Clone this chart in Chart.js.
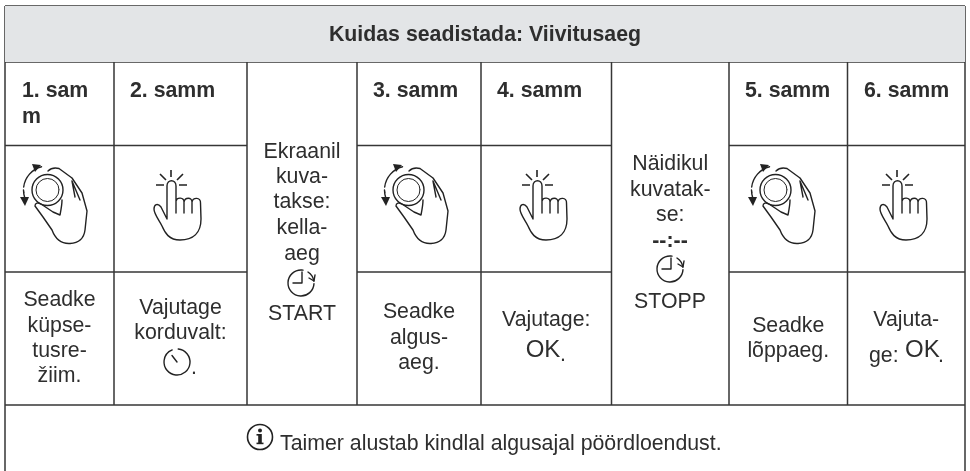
<!DOCTYPE html>
<html>
<head>
<meta charset="utf-8">
<script src="https://cdn.jsdelivr.net/npm/chart.js@4/dist/chart.umd.min.js"></script>
<style>
  html, body { margin: 0; padding: 0; background: #fff; }
  canvas { display: block; }
</style>
</head>
<body>
<canvas id="chart" width="970" height="471"></canvas>
<script>
/* ---------- Content ---------- */

const titleText = "Kuidas seadistada: Viivitusaeg";
const stepLabels = ["1. sam", "2. samm", "3. samm", "4. samm", "5. samm", "6. samm"];
const wrappedStepTail = "m";
const noteText = "Taimer alustab kindlal algusajal pöördloendust.";

const firstCellLines = ["Seadke", "küpse-", "tusre-", "žiim."];
const secondCellLines = ["Vajutage", "korduvalt:"];
const startCellLines = ["Ekraanil", "kuva-", "takse:", "kella-", "aeg"];
const startWord = "START";
const thirdCellLines = ["Seadke", "algus-", "aeg."];
const fourthCellLines = ["Vajutage:"];
const stopCellLines = ["Näidikul", "kuvatak-", "se:"];
const stopDashes = "--:--";
const stopWord = "STOPP";
const fifthCellLines = ["Seadke", "lõppaeg."];
const sixthCellLines = ["Vajuta-"];
const sixthCellTail = "ge:";
const okWord = "OK";

/* ---------- Table grid (axis units) ---------- */

const columnEdges = [5, 114, 247, 357, 481, 611.5, 729, 847.5, 965];
const rowEdges = [6, 62, 145.5, 272, 405, 471];
const stepLabelLeft = [22, 130, 373, 497, 745, 864];

const knobPoints = [[53, 207], [414, 207], [781, 207]];
const pressPoints = [[177, 207], [543, 207], [903, 207]];
const timerPoints = [[177, 362]];
const delayPoints = [[301, 283], [670, 269]];
const infoPoints = [[260, 437]];

const INK = "#2e2e2e";
const LINE = "#363636";

/* ---------- Icons, drawn once and used as point styles ---------- */

function makeIcon(size, draw) {
  const c = document.createElement("canvas");
  c.width = size;
  c.height = size;
  const g = c.getContext("2d");
  g.translate(size / 2, size / 2);
  g.strokeStyle = "#222";
  g.fillStyle = "#222";
  g.lineWidth = 1.4;
  g.lineCap = "round";
  g.lineJoin = "round";
  draw(g);
  return c;
}

function knobIcon() {
  return makeIcon(96, g => {
    g.beginPath();
    g.arc(-5.5, -17, 15.5, 0, Math.PI * 2);
    g.stroke();
    g.beginPath();
    g.arc(-5.5, -17, 11.5, 0, Math.PI * 2);
    g.lineWidth = 1;
    g.stroke();
    g.lineWidth = 1.4;
    // hand outline
    g.beginPath();
    g.moveTo(-5, -36);
    g.bezierCurveTo(-2, -39, 2, -39.5, 6, -38.5);
    g.lineTo(19, -29);
    g.lineTo(29, -14);
    g.lineTo(34, 4);
    g.lineTo(32, 23);
    g.bezierCurveTo(31, 31, 26, 36, 17, 36.5);
    g.bezierCurveTo(8, 37, 2, 31, -1, 23);
    g.lineTo(-10, 10);
    g.lineTo(-18, -1);
    g.bezierCurveTo(-18, -4, -15, -5, -12, -3);
    g.lineTo(0, 5);
    g.lineTo(7, 8);
    g.bezierCurveTo(8, 3, 9, -2, 9, -7);
    g.stroke();
    // finger crease
    g.beginPath();
    g.moveTo(19, -26);
    g.lineTo(27, -7);
    g.moveTo(19, -26);
    g.lineTo(22, -10);
    g.stroke();
    // rotation arrows
    g.lineWidth = 1.4;
    g.beginPath();
    g.arc(-5.5, -17, 24, Math.PI * 1.04, Math.PI * 1.42);
    g.moveTo(-29, -14);
    g.arc(-5.5, -17, 24, Math.PI * 1.0, Math.PI * 0.9, true);
    g.stroke();
    g.beginPath();
    g.moveTo(-12, -42);
    g.lineTo(-21, -43);
    g.lineTo(-18, -35);
    g.closePath();
    g.fill();
    g.beginPath();
    g.moveTo(-33, -10);
    g.lineTo(-24, -10);
    g.lineTo(-28, -1);
    g.closePath();
    g.fill();
  });
}

function pressIcon() {
  return makeIcon(96, g => {
    // rays
    g.lineCap = "butt";
    g.lineWidth = 1.6;
    g.beginPath();
    g.moveTo(-6, -37);
    g.lineTo(-6, -30);
    g.moveTo(-17, -33);
    g.lineTo(-11, -27);
    g.moveTo(6, -33);
    g.lineTo(0, -27);
    g.moveTo(-21, -22);
    g.lineTo(-13, -22);
    g.moveTo(2, -22);
    g.lineTo(10, -22);
    g.stroke();
    g.lineCap = "round";
    g.lineWidth = 1.4;
    // index finger, fingers and palm
    g.beginPath();
    g.moveTo(-10, 12);
    g.lineTo(-10, -21);
    g.bezierCurveTo(-10, -28, -1, -28, -1, -21);
    g.lineTo(-1, 6);
    g.moveTo(-1, -6);
    g.bezierCurveTo(0, -10, 7, -10, 7, -5);
    g.lineTo(7, 6);
    g.moveTo(7, -5);
    g.bezierCurveTo(8, -10, 15, -10, 15, -5);
    g.lineTo(15, 6);
    g.moveTo(15, -5);
    g.bezierCurveTo(16, -10, 24, -10, 23.5, -4);
    g.lineTo(24, 12);
    g.bezierCurveTo(24, 26, 16, 33, 3, 33);
    g.bezierCurveTo(-8, 33, -12, 26, -15, 19);
    g.bezierCurveTo(-18, 13, -23, 7, -23, 2);
    g.bezierCurveTo(-23, -3, -19, -4, -16, 0);
    g.lineTo(-10, 12);
    g.stroke();
  });
}

function timerIcon() {
  return makeIcon(40, g => {
    g.lineWidth = 1.4;
    g.beginPath();
    g.arc(0, 0, 13, -Math.PI * 0.47, -Math.PI * 0.62 + Math.PI * 2);
    g.stroke();
    g.beginPath();
    g.moveTo(-5, -6.5);
    g.lineTo(0, 0);
    g.stroke();
  });
}

function delayIcon() {
  return makeIcon(40, g => {
    g.lineWidth = 1.4;
    g.beginPath();
    g.arc(0, 0, 13, 0.05, -Math.PI * 0.45 + Math.PI * 2);
    g.stroke();
    g.beginPath();
    g.arc(0, 0, 13, -Math.PI * 0.32, -0.15);
    g.stroke();
    g.beginPath();
    g.moveTo(14, -8);
    g.lineTo(13, -2);
    g.lineTo(8, -5);
    g.stroke();
    g.beginPath();
    g.moveTo(1, -11);
    g.lineTo(1, 0);
    g.lineTo(-8, 0);
    g.stroke();
  });
}

function infoIcon() {
  return makeIcon(40, g => {
    g.lineWidth = 1.6;
    g.beginPath();
    g.arc(0, 0, 12.5, 0, Math.PI * 2);
    g.stroke();
    g.beginPath();
    g.arc(0, -6.5, 2, 0, Math.PI * 2);
    g.fill();
    g.fillRect(-1.8, -3, 3.6, 10);
    g.fillRect(-3.5, -3, 2.5, 1.6);
    g.fillRect(-3.5, 5.6, 7, 1.6);
  });
}

/* ---------- Datasets ---------- */

function rule(x0, y0, x1, y1) {
  return {
    data: [{ x: x0, y: y0 }, { x: x1, y: y1 }],
    showLine: true,
    borderColor: LINE,
    borderWidth: 1.5,
    pointRadius: 0,
    fill: false
  };
}

function iconSet(points, style) {
  return {
    data: points.map(p => ({ x: p[0], y: p[1] })),
    showLine: false,
    pointStyle: style,
    pointRadius: 5
  };
}

const left = columnEdges[0];
const right = columnEdges[columnEdges.length - 1];
const datasets = [];

// grey title band
datasets.push({
  data: [{ x: left, y: rowEdges[1] }, { x: right, y: rowEdges[1] }],
  showLine: true,
  borderWidth: 0,
  pointRadius: 0,
  fill: { value: rowEdges[0] },
  backgroundColor: "#e3e5e7"
});

datasets.push(rule(left, rowEdges[0], right, rowEdges[0]));
datasets.push(rule(left, rowEdges[1], right, rowEdges[1]));
datasets.push(rule(left, rowEdges[4], right, rowEdges[4]));
datasets.push(rule(left, rowEdges[0], left, rowEdges[5]));
datasets.push(rule(right, rowEdges[0], right, rowEdges[5]));

columnEdges.slice(1, -1).forEach(x => {
  datasets.push(rule(x, rowEdges[1], x, rowEdges[4]));
});

// the inner rows stop at the two merged status columns
[[0, 2], [3, 5], [6, 8]].forEach(span => {
  [rowEdges[2], rowEdges[3]].forEach(y => {
    datasets.push(rule(columnEdges[span[0]], y, columnEdges[span[1]], y));
  });
});

datasets.push(iconSet(knobPoints, knobIcon()));
datasets.push(iconSet(pressPoints, pressIcon()));
datasets.push(iconSet(timerPoints, timerIcon()));
datasets.push(iconSet(delayPoints, delayIcon()));
datasets.push(iconSet(infoPoints, infoIcon()));

/* ---------- Text ---------- */

const FACE = '"Liberation Sans", Arial, sans-serif';
const BODY = "21.3px " + FACE;
const BOLD = "bold 21.3px " + FACE;
const OK_FONT = "24px " + FACE;

const tableText = {
  id: "tableText",
  afterDatasetsDraw(chart) {
    const { ctx, scales } = chart;
    const put = (text, x, y, font, align) => {
      ctx.font = font;
      ctx.textAlign = align || "center";
      ctx.fillText(text, scales.x.getPixelForValue(x), scales.y.getPixelForValue(y));
    };
    const stack = (lines, col, baselines) => {
      const cx = (columnEdges[col] + columnEdges[col + 1]) / 2;
      lines.forEach((line, i) => put(line, cx, baselines[i], BODY));
    };

    ctx.save();
    ctx.fillStyle = INK;
    ctx.textBaseline = "alphabetic";

    put(titleText, 485, 41, BOLD);

    stepLabels.forEach((label, i) => {
      put(label, stepLabelLeft[i], 97, BOLD, "left");
    });
    put(wrappedStepTail, stepLabelLeft[0], 123, BOLD, "left");

    stack(firstCellLines, 0, [306, 332, 357, 382]);
    stack(secondCellLines, 1, [314, 339]);
    put(".", 194, 374, BODY);

    stack(startCellLines, 2, [158, 183, 208, 234, 260]);
    put(startWord, 302, 320, BODY);

    stack(thirdCellLines, 3, [318, 344, 369]);
    stack(fourthCellLines, 4, [326]);
    put(okWord, 543, 357, OK_FONT);
    put(".", 563, 361, BODY);

    stack(stopCellLines, 5, [170, 196, 221]);
    put(stopDashes, 670, 247, BOLD);
    put(stopWord, 670, 308, BODY);

    stack(fifthCellLines, 6, [332, 357]);
    stack(sixthCellLines, 7, [326]);
    put(sixthCellTail, 869, 362, BODY, "left");
    put(okWord, 905, 357, OK_FONT, "left");
    put(".", 941, 362, BODY);

    put(noteText, 280, 450, BODY, "left");
    ctx.restore();
  }
};

/* ---------- Chart ---------- */

new Chart(document.getElementById("chart"), {
  type: "scatter",
  data: { datasets },
  plugins: [tableText],
  options: {
    responsive: false,
    animation: false,
    events: [],
    layout: { padding: 0, autoPadding: false },
    plugins: {
      legend: { display: false },
      title: { display: false },
      tooltip: { enabled: false }
    },
    scales: {
      x: { type: "linear", min: 0, max: 970, display: false },
      y: { type: "linear", min: 0, max: 471, reverse: true, display: false }
    }
  }
});
</script>
</body>
</html>
